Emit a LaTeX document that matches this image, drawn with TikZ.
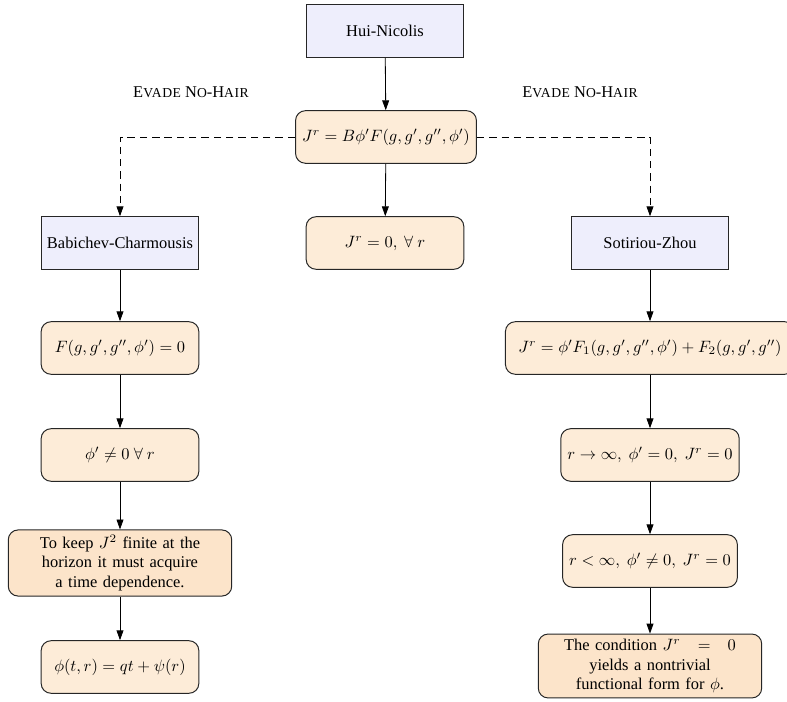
\documentclass[tikz,border=0pt]{standalone}
\usepackage{fontspec}
\setmainfont{Liberation Serif}
\usetikzlibrary{arrows.meta}
\definecolor{bluefill}{RGB}{238,238,252}
\definecolor{orfill}{RGB}{253,236,216}
\definecolor{orfilldark}{RGB}{252,228,202}
\newcommand{\fakesc}[2]{#1{\fontsize{8.3}{10}\selectfont\addfontfeatures{LetterSpace=4} #2}}
\tikzset{
  >={Triangle[length=6pt,width=4.2pt]},
  namebox/.style={draw=black!85, line width=0.6pt, fill=bluefill, minimum width=96pt, minimum height=32pt, inner sep=3.6pt, font=\normalsize},
  eqbox/.style={draw=black!85, line width=0.6pt, fill=orfill, rounded corners=6pt, minimum width=96pt, minimum height=32pt, inner xsep=4pt},
  textbox/.style={draw=black!85, line width=0.6pt, fill=orfilldark, rounded corners=6pt, text width=128pt, align=center, inner xsep=4pt, inner ysep=3pt},
  conn/.style={->, line width=0.5pt},
  dconn/.style={->, line width=0.5pt, dash pattern=on 4.5pt off 3pt},
  lbl/.style={font=\normalsize}
}
\begin{document}
\begin{tikzpicture}[x=0.6087pt,y=-0.6087pt]
\useasboundingbox (0,0) rectangle (787,702);
\node[namebox] (hui) at (385,31) {Hui-Nicolis};
\node[eqbox] (jr) at (386,137) {$J^r=B\phi' F(g,g',g'',\phi')$};
\node[eqbox] (jr0) at (385,243) {$J^r=0,\ \forall\ r$};
\node[namebox] (bab) at (120,243) {Babichev-Charmousis};
\node[namebox] (sz) at (650,243) {Sotiriou-Zhou};
\node[eqbox] (F) at (120,348) {$F(g,g',g'',\phi')=0$};
\node[eqbox] (phi) at (120,455) {$\phi'\neq0\ \forall\ r$};
\node[textbox] (keep) at (120,563) {To keep $J^2$ finite at the horizon it must acquire a time dependence.};
\node[eqbox] (phit) at (120,667) {$\phi(t,r)=qt+\psi(r)$};
\node[eqbox, minimum width=176pt] (jr2) at (650,348) {$J^r=\phi' F_1(g,g',g'',\phi')+F_2(g,g',g'')$};
\node[eqbox] (rinf) at (650,455) {$r\to\infty,\ \phi'=0,\ J^r=0$};
\node[eqbox] (rless) at (650,561) {$r<\infty,\ \phi'\neq0,\ J^r=0$};
\node[textbox] (cond) at (650,666) {The condition $J^r\,\;=\,\;0$ yields a nontrivial functional form for $\phi$.};
\coordinate (lc) at (120,137);
\coordinate (rc) at (650,137);
\node[lbl] (l1) at (191,92) {\fakesc{E}{VADE} \fakesc{N}{O}-\fakesc{H}{AIR}};
\node[lbl] (l2) at (580,92) {\fakesc{E}{VADE} \fakesc{N}{O}-\fakesc{H}{AIR}};
\draw[conn] (hui) -- (jr);
\draw[conn] (jr) -- (jr0);
\draw[dconn] (jr.west) -- (lc) -- (bab.north);
\draw[dconn] (jr.east) -- (rc) -- (sz.north);
\draw[conn] (bab) -- (F);
\draw[conn] (F) -- (phi);
\draw[conn] (phi) -- (keep);
\draw[conn] (keep) -- (phit);
\draw[conn] (sz) -- (jr2);
\draw[conn] (jr2) -- (rinf);
\draw[conn] (rinf) -- (rless);
\draw[conn] (rless) -- (cond);
\end{tikzpicture}
\end{document}
